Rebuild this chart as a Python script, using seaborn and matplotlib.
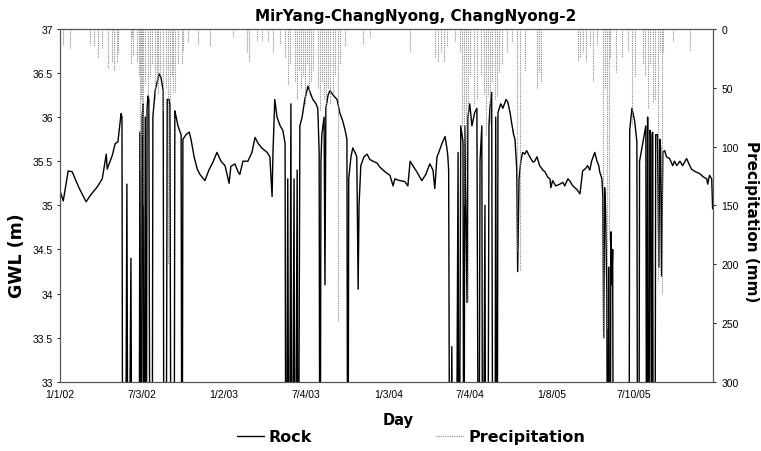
import numpy as np
import pandas as pd
import matplotlib
matplotlib.use("Agg")
import matplotlib.pyplot as plt
from matplotlib.lines import Line2D
import seaborn as sns

# Day index counted from 1/1/02; 30 marks logger dropouts (below axis)
gwl_day = [0, 7, 18, 27, 42, 58, 67, 83, 94, 103, 105, 116, 123, 129, 136, 138,
           140, 145, 149, 152, 158, 161, 176, 178, 181, 183, 185, 187, 190, 192, 194, 196,
           198, 201, 205, 207, 212, 221, 225, 230, 232, 236, 239, 243, 245, 248, 254, 256,
           259, 263, 270, 272, 274, 281, 288, 292, 299, 306, 312, 323, 332, 341, 350, 359,
           368, 377, 381, 390, 397, 401, 408, 419, 428, 435, 442, 450, 462, 468, 473, 475,
           479, 484, 491, 497, 502, 504, 508, 511, 515, 517, 522, 524, 529, 531, 535, 540,
           546, 553, 560, 564, 571, 575, 578, 580, 582, 584, 589, 591, 593, 598, 602, 609,
           618, 624, 631, 636, 640, 642, 644, 649, 653, 658, 662, 665, 667, 671, 678, 685,
           691, 698, 707, 714, 725, 736, 743, 747, 758, 769, 776, 781, 787, 796, 807, 816,
           825, 832, 836, 841, 845, 852, 859, 863, 865, 867, 870, 874, 879, 883, 888, 890,
           894, 899, 901, 903, 908, 910, 914, 919, 925, 930, 934, 937, 941, 943, 948, 950,
           954, 957, 959, 963, 966, 970, 972, 975, 977, 983, 988, 995, 999, 1004, 1008, 1012,
           1015, 1019, 1021, 1024, 1028, 1032, 1037, 1041, 1048, 1055, 1059, 1064, 1070, 1077, 1082, 1088,
           1093, 1095, 1099, 1106, 1115, 1122, 1126, 1133, 1137, 1144, 1153, 1160, 1164, 1166, 1173, 1177,
           1182, 1186, 1193, 1198, 1202, 1204, 1209, 1211, 1213, 1215, 1217, 1220, 1222, 1224, 1227, 1229,
           1231, 1233, 1235, 1238, 1269, 1271, 1276, 1282, 1287, 1289, 1291, 1293, 1300, 1307, 1309, 1311,
           1313, 1316, 1318, 1320, 1322, 1324, 1327, 1329, 1333, 1336, 1338, 1340, 1342, 1345, 1349, 1353,
           1360, 1367, 1371, 1376, 1383, 1389, 1398, 1405, 1409, 1418, 1427, 1436, 1443, 1445, 1449, 1454,
           1456]
gwl_level = [35.16, 35.05, 35.39, 35.38, 35.2, 35.04, 35.11, 35.21, 35.3, 35.58, 35.41, 35.56, 35.7, 35.72, 36.04, 36.0,
             30, 30, 35.24, 30, 34.4, 30, 30, 35.83, 30, 36.0, 36.15, 30, 36.0, 30, 36.1, 36.24,
             36.2, 30, 30, 36.0, 36.3, 36.49, 36.45, 36.3, 30, 30, 36.2, 36.2, 36.15, 30, 30, 36.07,
             36.0, 35.9, 35.8, 30, 35.75, 35.8, 35.83, 35.75, 35.55, 35.41, 35.35, 35.28, 35.4, 35.49, 35.6, 35.5,
             35.45, 35.25, 35.44, 35.47, 35.38, 35.35, 35.5, 35.5, 35.6, 35.77, 35.7, 35.65, 35.6, 35.55, 35.1, 35.6,
             36.2, 36.0, 35.9, 35.85, 35.7, 30, 35.3, 30, 36.15, 30, 35.3, 30, 35.4, 30, 35.9, 36.0,
             36.2, 36.35, 36.25, 36.2, 36.15, 36.1, 35.6, 30, 35.5, 35.8, 36.0, 34.1, 36.1, 36.25, 36.3, 36.25,
             36.2, 36.05, 35.95, 35.85, 35.75, 30, 35.3, 35.55, 35.65, 35.6, 35.55, 34.05, 35.0, 35.45, 35.55, 35.58,
             35.52, 35.5, 35.48, 35.43, 35.38, 35.34, 35.22, 35.3, 35.28, 35.27, 35.22, 35.5, 35.45, 35.38, 35.28, 35.35,
             35.47, 35.4, 35.19, 35.55, 35.6, 35.7, 35.78, 35.65, 35.57, 35.4, 30, 33.4, 30, 30, 35.6, 30,
             35.9, 35.72, 30, 35.9, 33.9, 36.0, 36.15, 35.9, 36.05, 36.1, 30, 35.5, 35.9, 30, 35.0, 30,
             30, 35.9, 36.1, 36.28, 30, 30, 36.0, 30, 36.05, 36.15, 36.1, 36.2, 36.17, 36.05, 35.92, 35.8,
             35.75, 35.41, 34.25, 35.3, 35.5, 35.6, 35.58, 35.62, 35.55, 35.49, 35.5, 35.55, 35.45, 35.4, 35.38, 35.32,
             35.3, 35.2, 35.28, 35.22, 35.24, 35.26, 35.22, 35.3, 35.28, 35.22, 35.18, 35.13, 35.3, 35.39, 35.42, 35.45,
             35.4, 35.5, 35.6, 35.5, 35.45, 35.38, 35.3, 35.1, 33.5, 35.2, 35.0, 34.0, 30, 34.3, 30, 34.7,
             34.1, 34.5, 30, 30, 30, 35.85, 36.1, 35.96, 35.72, 30, 30, 35.5, 35.7, 35.9, 30, 36.0,
             30, 35.85, 35.8, 30, 35.83, 30, 30, 35.8, 35.8, 34.3, 35.75, 35.65, 34.2, 35.6, 35.62, 35.55,
             35.53, 35.45, 35.5, 35.45, 35.5, 35.45, 35.53, 35.45, 35.41, 35.38, 35.36, 35.32, 35.3, 35.24, 35.34, 35.3,
             34.96]

rain_day = [7, 22, 67, 76, 85, 94, 107, 116, 120, 127, 129, 158, 161, 163, 172, 176, 178, 181, 183, 185,
            190, 196, 201, 205, 212, 216, 219, 223, 230, 236, 241, 245, 250, 252, 256, 263, 272, 274, 285, 308,
            335, 386, 417, 421, 439, 450, 464,
            475, 491, 502, 508, 513, 524, 529, 533, 537, 542, 546, 551, 555, 560, 564, 575, 580, 584, 589, 593,
            598, 602, 609, 613, 620, 624, 636, 676, 691, 781, 836, 843, 850, 856, 863,
            881, 892, 896, 901, 905, 910, 914, 923, 930, 939, 946, 950, 954, 959, 963, 970, 975, 979, 986, 997,
            1008, 1019, 1026, 1037, 1064, 1068, 1073,
            1155, 1160, 1166, 1173, 1182, 1189, 1198, 1211, 1215, 1220, 1224, 1227, 1240, 1253, 1267, 1276, 1282, 1300,
            1305, 1311, 1316, 1322, 1327, 1334, 1338, 1342, 1345, 1367, 1405]
rain_mm = [14, 17, 13, 15, 25, 17, 33, 28, 35, 28, 20, 30, 8, 23, 28, 40, 120, 60, 90, 150,
           48, 57, 42, 30, 60, 45, 55, 40, 70, 51, 200, 60, 40, 54, 54, 30, 30, 19, 11, 13,
           15, 8, 20, 28, 10, 10, 10,
           20, 13, 25, 48, 30, 45, 60, 35, 50, 40, 65, 30, 55, 45, 35, 50, 70, 45, 60, 80,
           50, 65, 55, 40, 248, 30, 15, 13, 8, 20, 25, 28, 20, 28, 15,
           10, 20, 83, 150, 120, 231, 40, 65, 60, 40, 55, 90, 57, 80, 45, 60, 57, 37, 30, 20,
           11, 190, 206, 36, 50, 37, 45,
           27, 25, 20, 27, 15, 44, 14, 262, 50, 255, 180, 25, 37, 25, 19, 82, 41, 30,
           40, 68, 30, 62, 60, 214, 20, 225, 20, 10, 19]

tick_days = [0, 183, 366, 549, 732, 915, 1098, 1281]
tick_labels = ["1/1/02", "7/3/02", "1/2/03", "7/4/03", "1/3/04", "7/4/04", "1/8/05", "7/10/05"]

sns.set_style("white")
plt.rcParams['font.family'] = ['Liberation Sans', 'DejaVu Sans']
plt.rcParams.update({"text.color": "black", "axes.labelcolor": "black",
                     "xtick.color": "black", "ytick.color": "black"})
wide_bold = {"family": "DejaVu Sans", "weight": "bold"}

fig, ax = plt.subplots(figsize=(7.61, 4.52), dpi=100)
fig.subplots_adjust(left=0.079, right=0.937, top=0.934, bottom=0.153)

gwl = pd.DataFrame({"day": gwl_day, "level": gwl_level})
sns.lineplot(data=gwl, x="day", y="level", ax=ax, color="black", lw=1.0, legend=False)
ax.set_xlim(0, 1457)
ax.set_ylim(33, 37)
ax.set_yticks(np.arange(33, 37.01, 0.5))
ax.set_yticklabels(["33", "33.5", "34", "34.5", "35", "35.5", "36", "36.5", "37"], fontsize=7.5)
ax.set_xticks(tick_days)
ax.set_xticklabels(tick_labels, fontsize=7.5)
ax.set_xlabel("Day", fontsize=10.5, fontdict=wide_bold)
ax.xaxis.set_label_coords(0.518, -0.085)
ax.set_ylabel("GWL (m)", fontsize=12.5, fontdict=wide_bold)
ax.yaxis.set_label_coords(-0.052, 0.36)
ax.tick_params(length=2, width=0.6, pad=3)

ax2 = ax.twinx()
ax2.vlines(rain_day, 0, rain_mm, colors="#8a8a8a", linestyles=(0, (1, 1)), lw=0.8)
ax2.set_ylim(300, 0)
ax2.set_yticks(range(0, 301, 50))
ax2.set_yticklabels([str(v) for v in range(0, 301, 50)], fontsize=7.5)
ax2.set_ylabel("Precipitation (mm)", fontsize=11, rotation=270, fontdict=wide_bold)
ax2.yaxis.set_label_coords(1.071, 0.456)
ax2.tick_params(length=2, width=0.6, pad=4)

for a in (ax, ax2):
    for s in a.spines.values():
        s.set_color("#555555")
        s.set_linewidth(0.8)

ax.set_title("MirYang-ChangNyong, ChangNyong-2", fontsize=11, pad=6, x=0.545, fontdict=wide_bold)

handles = [Line2D([], [], color="black", lw=1.0),
           Line2D([], [], color="#8a8a8a", lw=0.8, linestyle=(0, (1, 1)))]
fig.legend(handles, ["Rock", "Precipitation"], loc="lower center", ncol=2,
           bbox_to_anchor=(0.54, -0.017), frameon=False, columnspacing=7.8,
           handlelength=1.7, handletextpad=0.3,
           prop={"family": "DejaVu Sans", "weight": "bold", "size": 11.5})

plt.savefig("out.png", dpi=100)
